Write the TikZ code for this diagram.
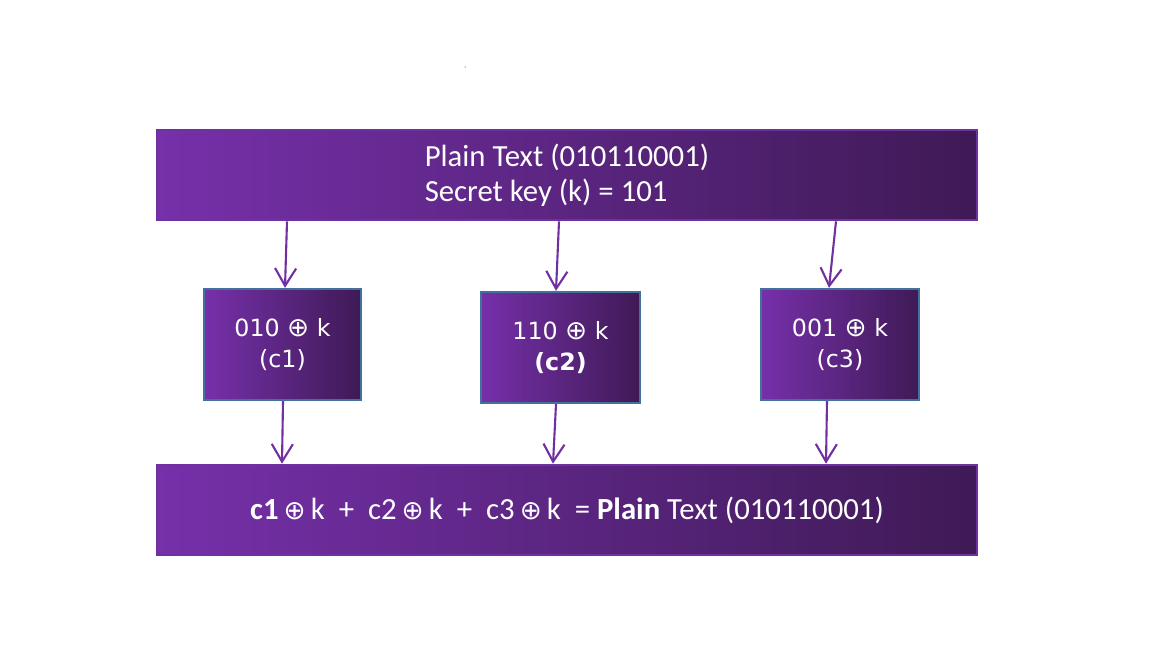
\documentclass[tikz,border=0pt]{standalone}
\usepackage{fontspec}
\setmainfont{Carlito}
\newfontfamily\boxfont{DejaVu Sans}
\usetikzlibrary{arrows.meta,positioning}
\definecolor{purple light}{HTML}{7630AA}
\definecolor{purple mid}{HTML}{6E2DA2}
\definecolor{purple dark}{HTML}{3F1A56}
\definecolor{purple line}{HTML}{7030A0}
\definecolor{steel}{HTML}{41719C}
\newcommand{\xor}{{\boxfont\fontsize{15}{17}\selectfont ⊕}}
\tikzstyle{band} = [draw=purple line,line width=1.5pt,left color=purple light,middle color=purple mid,right color=purple dark,text=white,minimum width=16.4cm,minimum height=1.8cm,inner sep=0pt,font=\fontsize{17.5}{20}\selectfont]
\tikzstyle{cipher} = [draw=steel,line width=1.3pt,left color=purple light,middle color=purple mid,right color=purple dark,text=white,minimum height=2.22cm,inner sep=0pt,align=center,font=\boxfont\fontsize{13.5}{18}\selectfont]
\tikzstyle{flow} = [purple line,line width=1.2pt,-{Straight Barb[length=10pt,width=12pt,line width=1.2pt]}]

\begin{document}
\begin{tikzpicture}[x=0.02cm,y=-0.02cm]
        \useasboundingbox (0,0) rectangle (1152,648);
        \fill (465,67) circle (0.5);

        \node[band,align=left] (plain) at (567,175) {Plain Text (010110001)\\Secret key (k) = 101};

        \node[cipher,minimum width=3.14cm] (c1) at (282.5,344.5) {010 \xor\ k\\(c1)};
        \node[cipher,minimum width=3.18cm] (c2) at (560.5,347.5) {110 \xor\ k\\\textbf{(c2)}};
        \node[cipher,minimum width=3.16cm] (c3) at (840,344.5) {001 \xor\ k\\(c3)};

        \node[band] (sum) at (567,510) {\textbf{c1}\,\xor\,k \ + \ c2\,\xor\,k \ + \ c3\,\xor\,k \ = \textbf{Plain} Text (010110001)};

        \draw[flow] (plain.south -| 287,0) to (c1.north -| 285,0);
        \draw[flow] (plain.south -| 559,0) to (c2.north -| 556,0);
        \draw[flow] (plain.south -| 836,0) to (c3.north -| 829,0);
        \draw[flow] (c1.south -| 283,0) to (sum.north -| 282,0);
        \draw[flow] (c2.south -| 556,0) to (sum.north -| 553,0);
        \draw[flow] (c3.south -| 827,0) to (sum.north -| 826,0);
    \end{tikzpicture}
\end{document}
